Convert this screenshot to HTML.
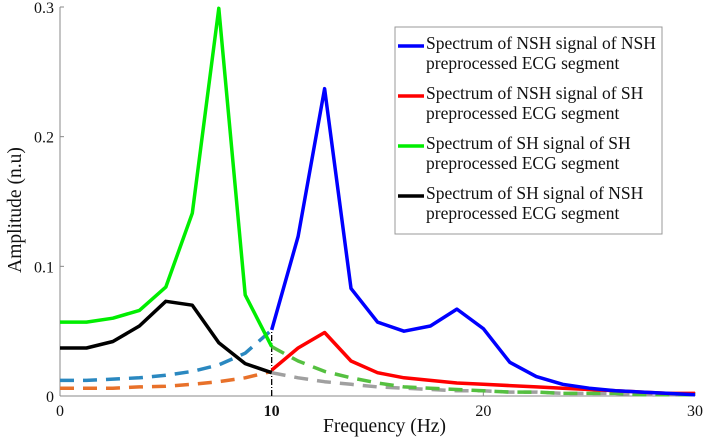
<!DOCTYPE html>
<html><head><meta charset="utf-8"><style>
body{margin:0;background:#fff;}
svg{display:block;font-family:"Liberation Serif",serif;}
</style></head><body>
<svg id="chart" width="708" height="442"></svg>
<script>
const xTicks=[0,10,20,30];
const yTicks=[0,0.1,0.2,0.3];
const yTickLabels=["0","0.1","0.2","0.3"];
const xLow=[0,1.25,2.5,3.75,5,6.25,7.5,8.75,10];
const xHigh=[10,11.25,12.5,13.75,15,16.25,17.5,18.75,20,21.25,22.5,23.75,25,26.25,27.5,28.75,30];
const greenSolid=[0.057,0.057,0.060,0.066,0.084,0.141,0.299,0.078,0.038];
const blackSolid=[0.037,0.037,0.042,0.054,0.073,0.070,0.041,0.025,0.018];
const blueDashed=[0.012,0.012,0.013,0.014,0.016,0.019,0.024,0.033,0.051];
const orangeDashed=[0.006,0.006,0.006,0.007,0.0075,0.009,0.011,0.014,0.019];
const blueSolid=[0.051,0.123,0.237,0.083,0.057,0.050,0.054,0.067,0.052,0.026,0.015,0.009,0.006,0.004,0.003,0.002,0.001];
const redSolid=[0.020,0.037,0.049,0.027,0.018,0.014,0.012,0.010,0.009,0.008,0.007,0.006,0.005,0.004,0.003,0.002,0.002];
const greenDashed=[0.038,0.027,0.019,0.014,0.010,0.007,0.006,0.005,0.004,0.003,0.003,0.002,0.002,0.002,0.001,0.001,0.001];
const grayDashed=[0.018,0.014,0.011,0.009,0.007,0.006,0.005,0.004,0.004,0.003,0.003,0.002,0.002,0.002,0.001,0.001,0.001];
const legendLabels=[["Spectrum of NSH signal of NSH","preprocessed ECG segment"],["Spectrum of NSH signal of SH","preprocessed ECG segment"],["Spectrum of SH signal of SH","preprocessed ECG segment"],["Spectrum of SH signal of NSH","preprocessed ECG segment"]];
const legendColors=["#0000ff","#ff0000","#00ee00","#000000"];

const NS="http://www.w3.org/2000/svg";
const svg=document.getElementById('chart');
const X0=60,X1=695,Y0=396,Y1=7;
const sx=v=>X0+(v/30)*(X1-X0);
const sy=v=>Y0-(v/0.3)*(Y0-Y1);
function mk(tag,attrs,parent){const e=document.createElementNS(NS,tag);for(const k in attrs)e.setAttribute(k,attrs[k]);(parent||svg).appendChild(e);return e;}

let ax=mk('line',{x1:X0,y1:Y1,x2:X0,y2:Y0,stroke:'#888','stroke-width':1});


ax=mk('line',{x1:X0,y1:Y0,x2:X1,y2:Y0,stroke:'#888','stroke-width':1});



xTicks.forEach(t=>{
  const tx=mk('text',{x:sx(t),y:Y0+20,'text-anchor':'middle','font-size':16,'font-weight':t===10?'bold':'normal',fill:'#111'});
  tx.textContent=String(t);
  
  
  mk('line',{x1:sx(t),y1:Y0,x2:sx(t),y2:Y0-4,stroke:'#888'});
});
yTicks.forEach((t,i)=>{
  const tx=mk('text',{x:X0-6,y:sy(t)+6,'text-anchor':'end','font-size':16,fill:'#111'});
  tx.textContent=yTickLabels[i];
  
  
  mk('line',{x1:X0,y1:sy(t),x2:X0+4,y2:sy(t),stroke:'#888'});
});
let t=mk('text',{x:(X0+X1)/2+7,y:432,'text-anchor':'middle','font-size':19.5,fill:'#111'});
t.textContent='Frequency (Hz)';


t=mk('text',{x:0,y:0,'text-anchor':'middle','font-size':19.5,fill:'#111',transform:'translate(21,210) rotate(-90)'});
t.textContent='Amplitude (n.u)';



const vm=mk('line',{x1:sx(10),y1:Y0,x2:sx(10),y2:sy(blueSolid[0]),stroke:'#000','stroke-width':1.3,'stroke-dasharray':'6,2,1,2'});



function series(xs,ys,color,dash,name){
  const d=xs.map((x,i)=>(i?'L':'M')+sx(x).toFixed(1)+','+sy(ys[i]).toFixed(1)).join(' ');
  const p=mk('path',{d:d,fill:'none',stroke:color,'stroke-width':3.5,'stroke-linejoin':'round'});
  if(dash)p.setAttribute('stroke-dasharray','14,9');
  
  
}
series(xLow,orangeDashed,'#e8712a',true,'orange-dashed-series');
series(xLow,blueDashed,'#2a88c0',true,'blue-dashed-series');
series(xHigh,grayDashed,'#a0a0a0',true,'gray-dashed-series');
series(xHigh,greenDashed,'#55c040',true,'green-dashed-series');
series(xLow,blackSolid,'#000000',false,'black-series');
series(xLow,greenSolid,'#00ee00',false,'green-series');
series(xHigh,redSolid,'#ff0000',false,'red-series');
series(xHigh,blueSolid,'#0000ff',false,'blue-series');

const lg=mk('g',{});


mk('rect',{x:395,y:27,width:267,height:207,fill:'#fff',stroke:'#999','stroke-width':1},lg);
legendLabels.forEach((lab,i)=>{
  const g=mk('g',{},lg);
  
  
  const by=33+i*50;
  mk('line',{x1:398,y1:by+13,x2:424,y2:by+13,stroke:legendColors[i],'stroke-width':3.5},g);
  lab.forEach((s,j)=>{
    const tx=mk('text',{x:426,y:by+16+j*20,'font-size':17.5,fill:'#111'},g);
    tx.textContent=s;
  });
});
</script>
</body></html>
